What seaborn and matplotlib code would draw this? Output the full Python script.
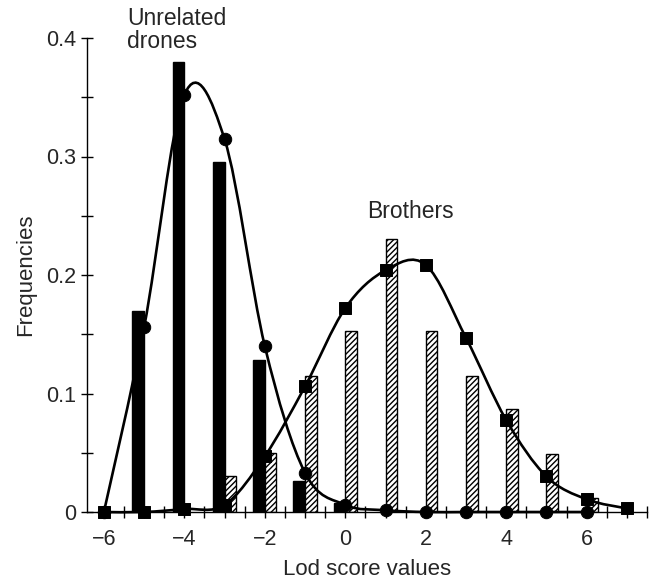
import numpy as np
import pandas as pd
import matplotlib
matplotlib.use("Agg")
import matplotlib.pyplot as plt
from matplotlib.path import Path
from matplotlib.patches import PathPatch
from matplotlib.ticker import MultipleLocator, FixedLocator, FixedFormatter
import seaborn as sns

# bar heights (frequencies)
drone_lod = [-5, -4, -3, -2, -1, 0]
drone_freq = [0.170, 0.380, 0.295, 0.128, 0.026, 0.008]
brother_lod = [-3, -2, -1, 0, 1, 2, 3, 4, 5, 6]
brother_freq = [0.030, 0.050, 0.115, 0.153, 0.230, 0.153, 0.115, 0.087, 0.049, 0.012]

# fitted curves (circles = unrelated drones, squares = brothers)
drone_fit_x = [-6, -5, -4, -3, -2, -1, 0, 1, 2, 3, 4, 5, 6]
drone_fit_y = [0.0, 0.156, 0.352, 0.3145, 0.140, 0.033, 0.006, 0.0015, 0.0, 0.0, 0.0, 0.0, 0.0]
brother_fit_x = [-6, -5, -4, -3, -2, -1, 0, 1, 2, 3, 4, 5, 6, 7]
brother_fit_y = [0.0, 0.0, 0.0025, 0.006, 0.047, 0.106, 0.172, 0.204, 0.2085, 0.147, 0.0776, 0.030, 0.0107, 0.003]

groups = ["Unrelated drones", "Brothers"]
x_ticks = [-6, -4, -2, 0, 2, 4, 6]
x_tick_labels = ["\u22126", "\u22124", "\u22122", "0", "2", "4", "6"]
y_ticks = [0, 0.1, 0.2, 0.3, 0.4]
y_tick_labels = ["0", "0.1", "0.2", "0.3", "0.4"]


def smooth_path(xs, ys):
    # Catmull-Rom curve through the points, drawn as cubic bezier segments
    pts = np.column_stack([xs, ys]).astype(float)
    n = len(pts)
    verts = [pts[0]]
    codes = [Path.MOVETO]
    for i in range(n - 1):
        p0 = pts[i - 1] if i > 0 else pts[i]
        p1 = pts[i]
        p2 = pts[i + 1]
        p3 = pts[i + 2] if i + 2 < n else pts[i + 1]
        verts += [p1 + (p2 - p0) / 6.0, p2 - (p3 - p1) / 6.0, p2]
        codes += [Path.CURVE4] * 3
    return Path(verts, codes)


sns.set_style("ticks")
plt.rcParams['font.family'] = ['Liberation Sans', 'DejaVu Sans']
plt.rcParams['hatch.linewidth'] = 1.0

df = pd.concat([
    pd.DataFrame({"lod": drone_lod, "freq": drone_freq, "group": groups[0]}),
    pd.DataFrame({"lod": brother_lod, "freq": brother_freq, "group": groups[1]}),
])

fig = plt.figure(figsize=(6.58, 5.79), dpi=100)
ax = fig.add_axes([87 / 658, 1 - 512 / 579, (647 - 87) / 658, (512 - 38) / 579])

sns.barplot(data=df, x="lod", y="freq", hue="group", hue_order=groups,
            native_scale=True, dodge=True, width=0.58, errorbar=None,
            palette={groups[0]: "black", groups[1]: "white"},
            edgecolor="black", linewidth=1, legend=False, ax=ax)
for bar in ax.containers[1]:
    bar.set_hatch("//////")

for xs, ys in [(drone_fit_x, drone_fit_y), (brother_fit_x, brother_fit_y)]:
    ax.add_patch(PathPatch(smooth_path(xs, ys), facecolor="none",
                           edgecolor="black", lw=1.9, zorder=3, clip_on=False))

sns.scatterplot(x=drone_fit_x, y=drone_fit_y, marker="o", color="black", s=80,
                edgecolor="black", zorder=4, clip_on=False, ax=ax)
sns.scatterplot(x=brother_fit_x, y=brother_fit_y, marker="s", color="black", s=75,
                edgecolor="black", zorder=5, clip_on=False, ax=ax)

ax.set_xlim(-6.42, 7.5)
ax.set_ylim(0, 0.4)
ax.xaxis.set_major_locator(FixedLocator(x_ticks))
ax.xaxis.set_major_formatter(FixedFormatter(x_tick_labels))
ax.xaxis.set_minor_locator(MultipleLocator(0.5))
ax.yaxis.set_major_locator(FixedLocator(y_ticks))
ax.yaxis.set_major_formatter(FixedFormatter(y_tick_labels))
ax.yaxis.set_minor_locator(MultipleLocator(0.05))
ax.tick_params(which="both", direction="inout", length=8, width=1, color="black")
ax.tick_params(axis="x", labelsize=15.5, pad=8)
ax.tick_params(axis="y", labelsize=15.5, pad=4)
for s in ["left", "bottom"]:
    ax.spines[s].set_color("black")
    ax.spines[s].set_linewidth(1)
sns.despine(ax=ax)

ax.set_xlabel("Lod score values", fontsize=16, labelpad=7)
ax.set_ylabel("Frequencies", fontsize=16, labelpad=7)

ax.text(-5.43, 0.426, "Unrelated\ndrones", ha="left", va="top", fontsize=16.5,
        linespacing=1.0, clip_on=False)
ax.text(1.63, 0.248, "Brothers", ha="center", va="baseline", fontsize=16.5)

fig.savefig("out.png", dpi=100)
